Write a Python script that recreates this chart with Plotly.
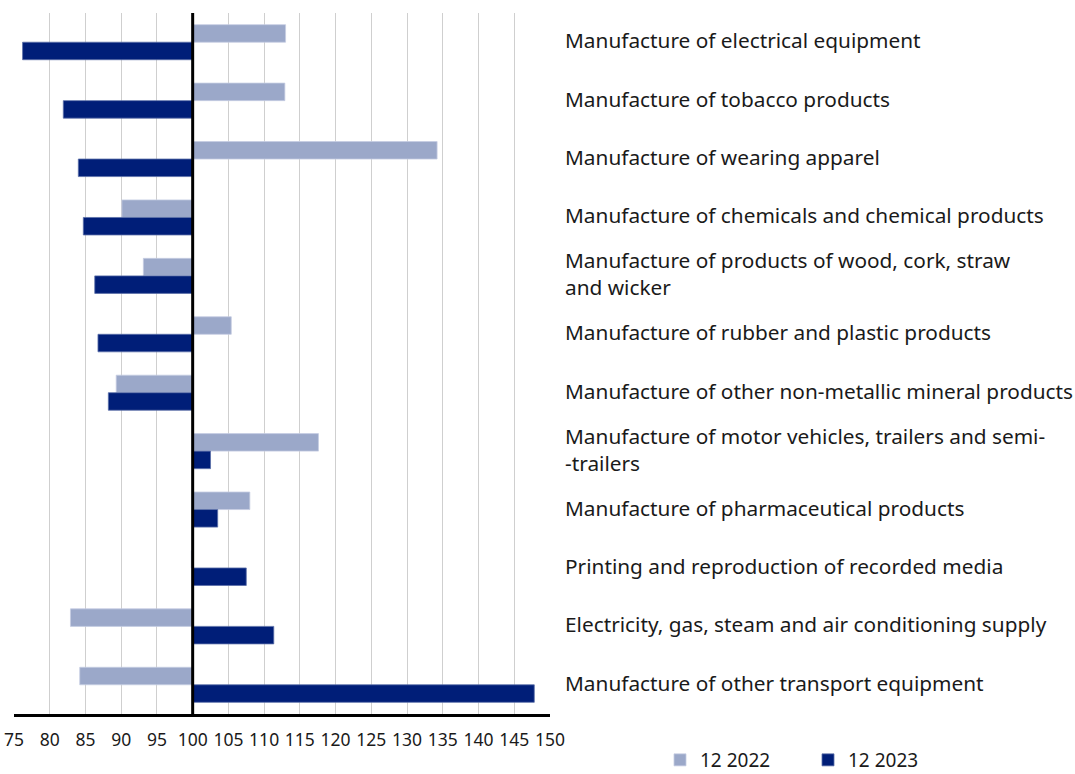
import plotly.graph_objects as go

categories = [
    "Manufacture of electrical equipment",
    "Manufacture of tobacco products",
    "Manufacture of wearing apparel",
    "Manufacture of chemicals and chemical products",
    "Manufacture of products of wood, cork, straw<br>and wicker",
    "Manufacture of rubber and plastic products",
    "Manufacture of other non-metallic mineral products",
    "Manufacture of motor vehicles, trailers and semi-<br>-trailers",
    "Manufacture of pharmaceutical products",
    "Printing and reproduction of recorded media",
    "Electricity, gas, steam and air conditioning supply",
    "Manufacture of other transport equipment",
]
values_2022 = [113.0, 112.9, 134.2, 90.1, 93.1, 105.4, 89.3, 117.6, 108.0, 99.8, 82.9, 84.2]
values_2023 = [76.2, 81.9, 84.0, 84.7, 86.3, 86.75, 88.2, 102.5, 103.5, 107.5, 111.35, 147.8]
series_names = ["12 2022", "12 2023"]
tick_vals = list(range(75, 151, 5))

BASE = 100
light = "#9BA8C9"
dark = "#001E78"
font_family = "Noto Sans, Open Sans, sans-serif"

W, H = 1075, 774
ML, MR, MT, MB = 14, 525, 13, 60
plot_w = W - ML - MR

ypos = list(range(len(categories)))

fig = go.Figure()
fig.add_trace(go.Bar(
    y=ypos, x=[v - BASE for v in values_2022], base=BASE, orientation="h",
    name=series_names[0], marker=dict(color=light, line=dict(color="#C5CDE2", width=0.8)),
))
fig.add_trace(go.Bar(
    y=ypos, x=[v - BASE for v in values_2023], base=BASE, orientation="h",
    name=series_names[1], marker=dict(color=dark, line=dict(color="#5A6EA8", width=0.8)),
))

for i, c in enumerate(categories):
    fig.add_annotation(
        x=(563 - ML) / plot_w, xref="paper", y=i, yref="y", text=c, showarrow=False,
        xanchor="left", yanchor="middle", align="left", yshift=2,
        font=dict(family=font_family, size=20.8, color="#1a1a1a"),
    )

fig.add_shape(type="line", x0=BASE, x1=BASE, y0=0, y1=1, xref="x", yref="paper",
              line=dict(color="black", width=3), layer="above")

fig.update_layout(
    width=W, height=H,
    margin=dict(l=ML, r=MR, t=MT, b=MB, autoexpand=False),
    paper_bgcolor="white", plot_bgcolor="white",
    barmode="group", bargap=0.4, bargroupgap=0,
    font=dict(family=font_family, size=17, color="#1a1a1a"),
    xaxis=dict(
        range=[75, 150], tickmode="array", tickvals=tick_vals,
        ticktext=[str(t) for t in tick_vals],
        showgrid=True, gridcolor="#CFCFCF", gridwidth=1.2,
        zeroline=False, showline=True, linecolor="black", linewidth=2.5,
        ticks="", tickfont=dict(size=17.5), fixedrange=True,
        automargin=False, ticklabelstandoff=8,
    ),
    yaxis=dict(
        range=[len(categories) - 0.5, -0.5], showticklabels=False,
        showgrid=False, zeroline=False, showline=False, ticks="",
        automargin=False, fixedrange=True,
    ),
    legend=dict(
        orientation="h", xref="container", yref="container",
        x=660 / W, y=(H - 760) / H, xanchor="left", yanchor="middle",
        font=dict(size=19), traceorder="normal", itemwidth=30,
        entrywidth=103, entrywidthmode="pixels",
    ),
    showlegend=True,
)

fig.write_html("out.html", config={"displayModeBar": False},
               post_script="document.body.style.margin='0';")
